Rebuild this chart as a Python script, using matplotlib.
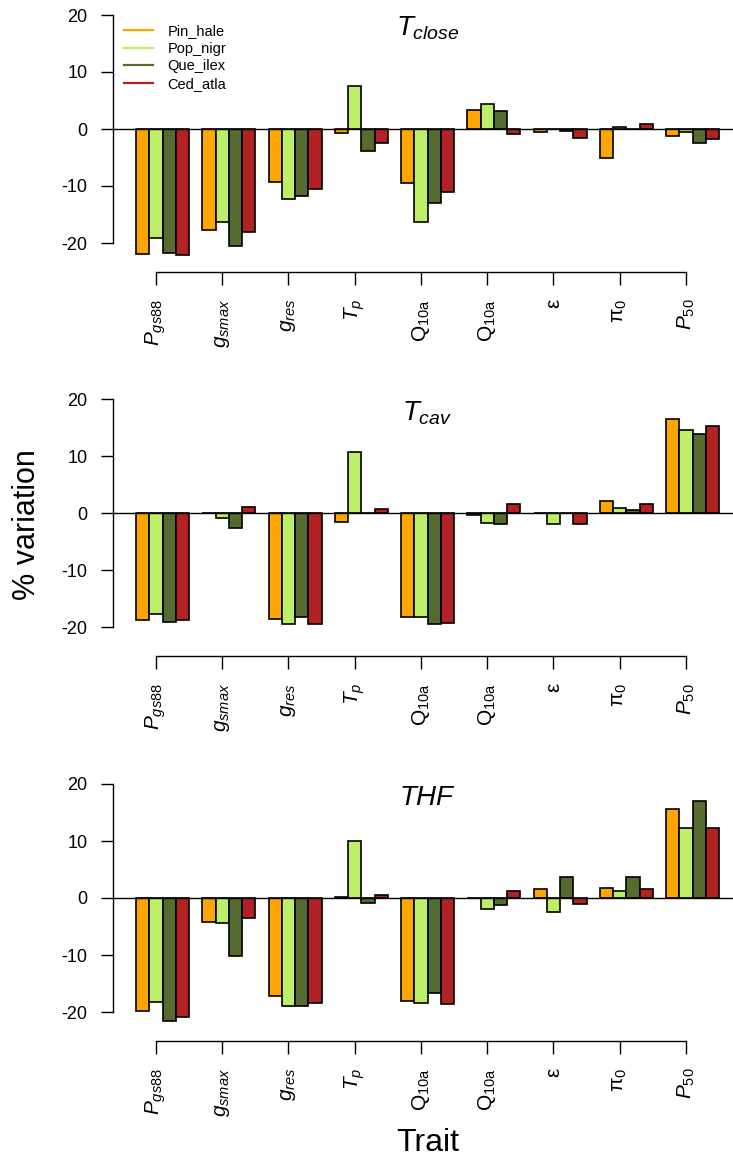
import matplotlib
matplotlib.use("Agg")
import matplotlib.pyplot as plt
from matplotlib.lines import Line2D
import numpy as np

plt.rcParams['font.family'] = ['Liberation Sans', 'DejaVu Sans']
plt.rcParams['mathtext.fontset'] = 'custom'
plt.rcParams['mathtext.rm'] = 'Liberation Sans'
plt.rcParams['mathtext.it'] = 'Liberation Sans:italic'
plt.rcParams['mathtext.bf'] = 'Liberation Sans:bold'

# ---------------- data ----------------
species = ['Pin_hale', 'Pop_nigr', 'Que_ilex', 'Ced_atla']
colors = ['#FFA500', '#BCEE68', '#556B2F', '#B22222']
trait_labels = [r'$P_{gs88}$', r'$g_{smax}$', r'$g_{res}$', r'$T_{p}$',
                r'$\mathrm{Q}_{\mathrm{10a}}$', r'$\mathrm{Q}_{\mathrm{10a}}$',
                'ε', r'$\mathrm{π}_{0}$', r'$P_{50}$']
panel_titles = [r'$T_{close}$', r'$T_{cav}$', r'$THF$']

tclose_pin = [-21.9, -17.8, -9.35, -0.75, -9.4, 3.3, -0.6, -5.0, -1.2]
tclose_pop = [-19.05, -16.3, -12.3, 7.5, -16.4, 4.4, -0.05, 0.4, -0.5]
tclose_que = [-21.8, -20.5, -11.75, -3.8, -12.9, 3.2, -0.4, 0.05, -2.4]
tclose_ced = [-22.1, -18.1, -10.6, -2.4, -11.0, -0.9, -1.5, 0.9, -1.8]

tcav_pin = [-18.65, 0.0, -18.5, -1.6, -18.25, -0.3, 0.0, 2.1, 16.5]
tcav_pop = [-17.7, -0.9, -19.35, 10.75, -18.25, -1.7, -1.8, 0.95, 14.6]
tcav_que = [-19.1, -2.5, -18.2, 0.1, -19.5, -1.8, 0.0, 0.65, 13.9]
tcav_ced = [-18.65, 1.1, -19.35, 0.7, -19.3, 1.7, -1.8, 1.7, 15.4]

thf_pin = [-19.8, -4.15, -17.2, 0.1, -18.0, 0.0, 1.55, 1.8, 15.6]
thf_pop = [-18.2, -4.45, -18.95, 10.0, -18.35, -2.0, -2.4, 1.2, 12.25]
thf_que = [-21.5, -10.2, -18.95, -0.8, -16.6, -1.3, 3.7, 3.7, 17.0]
thf_ced = [-20.8, -3.45, -18.5, 0.5, -18.6, 1.3, -1.05, 1.55, 12.2]

panels = [
    [tclose_pin, tclose_pop, tclose_que, tclose_ced],
    [tcav_pin, tcav_pop, tcav_que, tcav_ced],
    [thf_pin, thf_pop, thf_que, thf_ced],
]
yticks = [-20, -10, 0, 10, 20]

# ---------------- layout ----------------
W, H = 733, 1158
fig = plt.figure(figsize=(W / 100, H / 100), dpi=100)

px_per_unit_y = 5.7
ybot, ytop = -25.05, 21.5
zero_px = [129, 513.3, 898]
left_px, right_px = 112.6, 733
bar_px = 13.25
x0_px = 122.75
xmin = (left_px - x0_px) / bar_px
xmax = (right_px - x0_px) / bar_px

n_groups = 9
tick_pos = [2.5 + 5 * g for g in range(n_groups)]

for k, data in enumerate(panels):
    z = zero_px[k]
    top_px = z - ytop * px_per_unit_y
    bot_px = z - ybot * px_per_unit_y
    ax = fig.add_axes([left_px / W, 1 - bot_px / H,
                       (right_px - left_px) / W, (bot_px - top_px) / H])
    for s, vals in enumerate(data):
        lefts = [1 + 5 * g + s for g in range(n_groups)]
        ax.bar(lefts, vals, width=1.0, align='edge', color=colors[s],
               edgecolor='black', linewidth=1.2, zorder=2)
    ax.axhline(0, color='black', linewidth=1.0, zorder=3)
    ax.set_xlim(xmin, xmax)
    ax.set_ylim(ybot, ytop)

    for sp in ['top', 'right']:
        ax.spines[sp].set_visible(False)
    ax.spines['left'].set_bounds(-20, 20)
    ax.spines['bottom'].set_bounds(tick_pos[0], tick_pos[-1])
    for sp in ['left', 'bottom']:
        ax.spines[sp].set_linewidth(1.0)

    ax.set_yticks(yticks)
    ax.set_yticklabels([str(v) for v in yticks], fontsize=13)
    ax.set_xticks(tick_pos)
    ax.set_xticklabels(trait_labels, fontsize=15, rotation=90)
    ax.tick_params(axis='y', direction='out', length=9, width=1.0, pad=9)
    ax.tick_params(axis='x', direction='out', length=9.4, width=1.0, pad=10)

    ax.text(23.0, 17.6, panel_titles[k], fontsize=20, ha='center', va='center')

    if k == 0:
        handles = [Line2D([0], [0], color=c, lw=1.6) for c in colors]
        fig.legend(handles, species, loc='upper left',
                   bbox_to_anchor=(124 / W, 1 - 24 / H),
                   bbox_transform=fig.transFigure, frameon=False,
                   fontsize=10.5, handlelength=2.0, handletextpad=1.0,
                   labelspacing=0.25, borderpad=0, borderaxespad=0)

fig.text(27 / W, 1 - 525 / H, '% variation', rotation=90, fontsize=22,
         ha='center', va='center')
fig.text(428 / W, 1 - 1143 / H, 'Trait', fontsize=23, ha='center', va='center')

fig.savefig('out.png', dpi=100)
